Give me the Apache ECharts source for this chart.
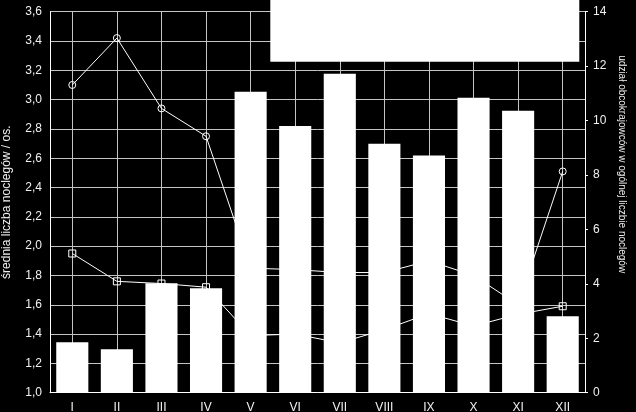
<!DOCTYPE html>
<html>
<head>
<meta charset="utf-8">
<script src="https://cdn.jsdelivr.net/npm/echarts@6/dist/echarts.min.js"></script>
<style>
html,body{margin:0;padding:0;background:#000;}
#chart{width:636px;height:412px;}
</style>
</head>
<body>
<div id="chart"></div>
<script>
const categories = ['I','II','III','IV','V','VI','VII','VIII','IX','X','XI','XII'];
const foreignShare = [1.85, 1.6, 4.02, 3.84, 11.06, 9.8, 11.72, 9.15, 8.72, 10.84, 10.36, 2.81];
const avgStayCircle = [3.10, 3.42, 2.94, 2.75, 1.85, 1.84, 1.82, 1.82, 1.90, 1.80, 1.60, 2.51];
const avgStaySquare = [1.95, 1.76, 1.745, 1.72, 1.39, 1.40, 1.34, 1.43, 1.54, 1.455, 1.535, 1.59];
const leftTicks = {min: 1.0, max: 3.6, interval: 0.2};
const rightTicks = {min: 0, max: 14, interval: 2};

// half-category helper axis so that vertical grid lines pass through category centres
const halfCategories = categories.flatMap(c => [c + '-a', c + '-b']);

const FONT = 'Liberation Sans, Arial, sans-serif';
const TXT = '#f0f0f0';
const GRID = '#c4c4c4';

const chart = echarts.init(document.getElementById('chart'));
chart.setOption({
  backgroundColor: '#000',
  animation: false,
  textStyle: {fontFamily: FONT},
  grid: {left: 50, right: 51, top: 11.7, bottom: 19.3, containLabel: false, outerBoundsMode: 'none'},
  xAxis: [
    {
      type: 'category',
      data: categories,
      boundaryGap: true,
      axisLine: {show: true, lineStyle: {color: '#fff', width: 1}},
      axisTick: {show: false},
      axisLabel: {color: TXT, fontSize: 12, margin: 9, fontFamily: FONT},
      splitLine: {show: false}
    },
    {
      type: 'category',
      data: halfCategories,
      boundaryGap: true,
      position: 'bottom',
      axisLine: {show: false},
      axisTick: {show: false},
      axisLabel: {show: false},
      splitLine: {show: true, interval: (i) => i % 2 === 1, lineStyle: {color: GRID, width: 1}}
    }
  ],
  yAxis: [
    {
      type: 'value',
      min: leftTicks.min, max: leftTicks.max, interval: leftTicks.interval,
      position: 'left',
      name: 'średnia liczba noclegów / os.',
      nameLocation: 'middle',
      nameRotate: 90,
      nameGap: 37,
      nameTextStyle: {color: TXT, fontSize: 12, fontFamily: FONT},
      axisLine: {show: true, lineStyle: {color: '#fff', width: 1}},
      axisTick: {show: false},
      axisLabel: {color: TXT, fontSize: 12, margin: 8, fontFamily: FONT,
        formatter: v => v.toFixed(1).replace('.', ',')},
      splitLine: {show: true, lineStyle: {color: GRID, width: 1}}
    },
    {
      type: 'value',
      min: rightTicks.min, max: rightTicks.max, interval: rightTicks.interval,
      position: 'right',
      name: 'udział obcokrajowców w ogólnej liczbie noclegów',
      nameLocation: 'middle',
      nameRotate: -90,
      nameGap: 31,
      nameTextStyle: {color: TXT, fontSize: 10, fontFamily: FONT, padding: [0, 76, 0, 0]},
      axisLine: {show: true, lineStyle: {color: '#fff', width: 1}},
      axisTick: {show: true, length: 3, lineStyle: {color: '#fff'}},
      axisLabel: {color: TXT, fontSize: 12, margin: 8, fontFamily: FONT},
      splitLine: {show: false}
    }
  ],
  series: [
    {
      name: 'średnia liczba noclegów (○)',
      type: 'line',
      xAxisIndex: 0,
      yAxisIndex: 0,
      data: avgStayCircle,
      z: 2,
      symbol: 'circle',
      symbolSize: 7,
      lineStyle: {color: '#fff', width: 1},
      itemStyle: {color: 'rgba(0,0,0,0)', borderColor: '#fff', borderWidth: 1}
    },
    {
      name: 'średnia liczba noclegów (□)',
      type: 'line',
      xAxisIndex: 0,
      yAxisIndex: 0,
      data: avgStaySquare,
      z: 2,
      symbol: 'rect',
      symbolSize: 7,
      lineStyle: {color: '#fff', width: 1},
      itemStyle: {color: 'rgba(0,0,0,0)', borderColor: '#fff', borderWidth: 1}
    },
    {
      name: 'udział obcokrajowców',
      type: 'bar',
      xAxisIndex: 0,
      yAxisIndex: 1,
      data: foreignShare,
      z: 3,
      barCategoryGap: '28%',
      itemStyle: {color: '#fff'}
    }
  ],
  graphic: [
    {type: 'rect', z: 100, shape: {x: 270.3, y: 0, width: 309, height: 61.7}, style: {fill: '#fff'}}
  ]
});
</script>
</body>
</html>
